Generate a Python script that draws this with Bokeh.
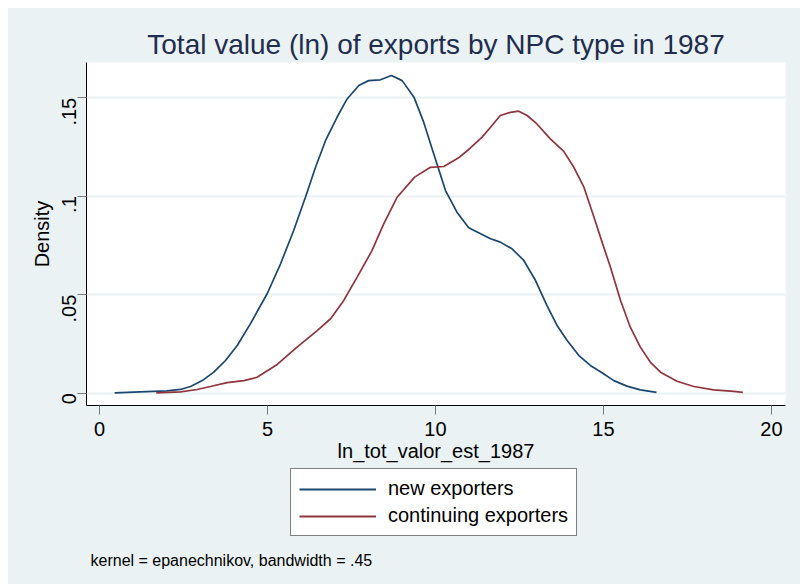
import math
from bokeh.plotting import figure
from bokeh.layouts import column
from bokeh.models import FixedTicker, Legend, LegendItem, Label, Range1d
from bokeh.embed import file_html
from bokeh.resources import INLINE

# ---- data ----
new_x = [0.45, 1.2, 2.01, 2.41, 2.71, 3.06, 3.40, 3.75, 4.10, 4.49, 4.99, 5.39, 5.78, 6.13, 6.43,
         6.73, 7.07, 7.37, 7.72, 8.01, 8.36, 8.69, 9.01, 9.36, 9.65, 9.95, 10.30, 10.64,
         10.99, 11.64, 11.93, 12.28, 12.63, 12.98, 13.32, 13.62, 13.92, 14.27, 14.61,
         14.96, 15.31, 15.70, 16.10, 16.58]
new_y = [0.0002, 0.0007, 0.0012, 0.0019, 0.0034, 0.0064, 0.0107, 0.0166, 0.0242, 0.0352, 0.0505,
         0.0657, 0.0826, 0.0995, 0.1147, 0.1283, 0.1401, 0.1494, 0.1562, 0.1587, 0.1591,
         0.1613, 0.1587, 0.1503, 0.1376, 0.1215, 0.1029, 0.0919, 0.0840, 0.0784, 0.0767,
         0.0733, 0.0674, 0.0572, 0.0445, 0.0344, 0.0268, 0.0191, 0.0141, 0.0104, 0.0064,
         0.0036, 0.0017, 0.0004]

cont_x = [1.69, 2.41, 2.91, 3.30, 3.80, 4.30, 4.69, 5.29, 5.88, 6.48, 6.88, 7.27, 7.67, 8.11,
          8.46, 8.86, 9.38, 9.85, 10.25, 10.69, 11.04, 11.39, 11.64, 11.93, 12.23, 12.48,
          12.73, 13.02, 13.42, 13.82, 14.12, 14.42, 14.72, 14.96, 15.21, 15.51, 15.80,
          16.10, 16.40, 16.70, 17.19, 17.69, 18.28, 18.88, 19.15]
cont_y = [0.0002, 0.0007, 0.0019, 0.0034, 0.0054, 0.0064, 0.0081, 0.0146, 0.0234, 0.0318,
          0.0378, 0.0471, 0.0589, 0.0724, 0.0860, 0.0995, 0.1097, 0.1147, 0.1151, 0.1195,
          0.1245, 0.1300, 0.1350, 0.1410, 0.1426, 0.1432, 0.1410, 0.1367, 0.1291, 0.1228,
          0.1147, 0.1046, 0.0893, 0.0767, 0.0640, 0.0471, 0.0335, 0.0234, 0.0157, 0.0107,
          0.0061, 0.0034, 0.0017, 0.0009, 0.0004]

x_ticks = [0, 5, 10, 15, 20]
y_ticks = [0, 0.05, 0.1, 0.15]
y_tick_labels = ["0", ".05", ".1", ".15"]
series_names = ["new exporters", "continuing exporters"]

title_text = "Total value (ln) of exports by NPC type in 1987"
x_label = "ln_tot_valor_est_1987"
y_label = "Density"
note_text = "kernel = epanechnikov, bandwidth = .45"

BG = "#eaf2f3"
BLUE = "#1a476f"
RED = "#90353b"
FONT = "Liberation Sans"

W = 792
H_MAIN = 460
H_FOOT = 116

p = figure(width=W, height=H_MAIN, output_backend="svg", toolbar_location=None,
           x_range=Range1d(-0.387, 20.42), y_range=Range1d(-0.00624, 0.1679),
           min_border_left=78, min_border_right=15, min_border_top=54, min_border_bottom=63)

p.background_fill_color = "white"
p.border_fill_color = BG
p.outline_line_color = None

# title
p.title.text = title_text
p.title.text_font = FONT
p.title.text_font_size = "28px"
p.title.text_font_style = "normal"
p.title.text_color = "#1f2d4e"
p.title.align = "center"
p.title.standoff = 6

# lines
r1 = p.line(new_x, new_y, line_color=BLUE, line_width=1.7)
r2 = p.line(cont_x, cont_y, line_color=RED, line_width=1.7)

# axes
for ax in (p.xaxis[0], p.yaxis[0]):
    ax.axis_line_color = "black"
    ax.axis_line_width = 1
    ax.major_tick_line_color = "#7a7a7a"
    ax.major_tick_out = 9
    ax.major_tick_in = 0
    ax.minor_tick_line_color = None
    ax.major_label_text_font = FONT
    ax.major_label_text_font_size = "20px"
    ax.major_label_text_color = "black"
    ax.axis_label_text_font = FONT
    ax.axis_label_text_font_size = "20px"
    ax.axis_label_text_font_style = "normal"
    ax.axis_label_text_color = "black"

p.xaxis[0].ticker = FixedTicker(ticks=x_ticks)
p.xaxis[0].axis_label = x_label
p.xaxis[0].major_label_standoff = 7
p.xaxis[0].axis_label_standoff = 1

p.yaxis[0].ticker = FixedTicker(ticks=y_ticks)
p.yaxis[0].major_label_overrides = {t: l for t, l in zip(y_ticks, y_tick_labels)}
p.yaxis[0].major_label_orientation = math.pi / 2
p.yaxis[0].axis_label = y_label
p.yaxis[0].major_label_standoff = 8
p.yaxis[0].axis_label_standoff = 0

p.xgrid.grid_line_color = None
p.ygrid.grid_line_color = BG
p.ygrid.grid_line_width = 2

# footer: legend box and note (frame is aligned with the main plot frame)
f = figure(width=W, height=H_FOOT, output_backend="svg", toolbar_location=None,
           x_range=Range1d(100, 200), y_range=Range1d(100, 200),
           x_axis_location=None, y_axis_location=None,
           min_border_left=78, min_border_right=15, min_border_top=0, min_border_bottom=0)
f.background_fill_color = BG
f.border_fill_color = BG
f.outline_line_color = None
f.xgrid.grid_line_color = None
f.ygrid.grid_line_color = None

# same series drawn again (out of this panel's view) only to feed the legend glyphs
l1 = f.line(new_x, new_y, line_color=BLUE, line_width=2)
l2 = f.line(cont_x, cont_y, line_color=RED, line_width=2)

legend = Legend(items=[LegendItem(label=series_names[0], renderers=[l1]),
                       LegendItem(label=series_names[1], renderers=[l2])],
                location=(204, 48), orientation="vertical",
                border_line_color="black", border_line_width=1,
                background_fill_color="white", background_fill_alpha=1,
                label_text_font=FONT, label_text_font_size="20px", label_text_color="black",
                glyph_width=77, glyph_height=20, label_height=20, label_standoff=12,
                spacing=4, padding=8, margin=0)
f.add_layout(legend, "center")

note = Label(x=4, y=24, x_units="screen", y_units="screen", text=note_text,
             text_font=FONT, text_font_size="16px", text_color="black",
             text_baseline="alphabetic", text_align="left")
f.add_layout(note)

layout = column(p, f, spacing=0, margin=(8, 0, 0, 8), styles={"background-color": BG})
open("out.html", "w").write(file_html(layout, INLINE))
